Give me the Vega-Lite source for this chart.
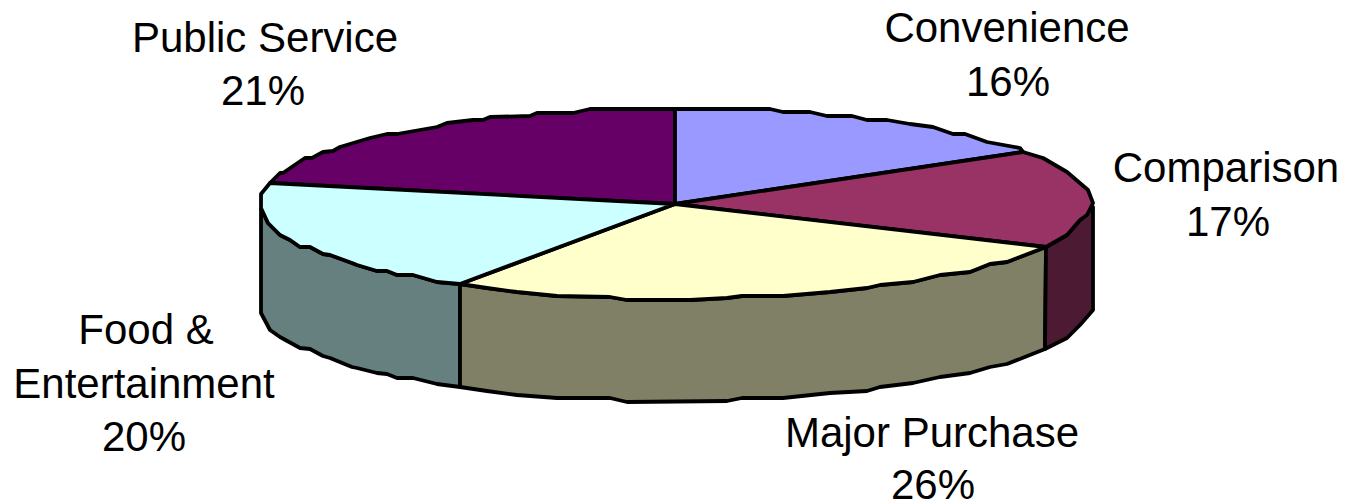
{
"$schema":"https://vega.github.io/schema/vega-lite/v6.json",
"width":1345,"height":502,"padding":0,"autosize":{"type":"none"},
"background":"white",
"config":{"view":{"stroke":null}},
"datasets":{
"shapes":[
{"s":"a","p":[[261,208],[268,223],[280,235],[290,240],[300,247],[310,247],[323,254],[330,255],[352,263],[357,265],[377,271],[387,271],[397,275],[413,275],[437,282],[460,284],[460,387],[437,384],[413,378],[397,378],[387,374],[377,373],[357,368],[352,367],[330,358],[323,356],[310,349],[300,348],[280,337],[270,330],[261,313],[261,208]]},
{"s":"b","p":[[460,284],[487,288],[517,292],[557,296],[610,297],[627,300],[690,300],[727,298],[742,296],[783,296],[830,292],[867,288],[880,285],[913,282],[940,275],[970,272],[990,264],[1007,262],[1046,247],[1045,349],[1007,364],[990,367],[970,373],[940,377],[913,383],[880,387],[867,391],[830,393],[783,398],[742,398],[727,401],[627,402],[610,398],[557,398],[517,395],[487,391],[460,387],[460,284]]},
{"s":"c","p":[[1046,247],[1067,235],[1080,220],[1093,207],[1093,310],[1080,325],[1067,338],[1045,349],[1046,247]]},
{"s":"d","p":[[675,204],[675,109],[590,109],[573,113],[537,113],[530,116],[490,117],[483,120],[473,120],[447,123],[437,127],[397,134],[387,134],[370,138],[340,147],[333,151],[323,152],[312,158],[305,158],[283,173],[280,173],[270,183],[675,204]]},
{"s":"e","p":[[675,204],[675,109],[770,109],[783,112],[810,112],[827,116],[852,116],[867,120],[887,120],[910,124],[933,127],[953,134],[965,134],[987,142],[1020,148],[1023,152],[675,204]]},
{"s":"f","p":[[675,204],[1023,152],[1043,158],[1067,172],[1088,190],[1093,203],[1087,215],[1080,220],[1067,235],[1046,247],[675,204]]},
{"s":"g","p":[[675,204],[1046,247],[1007,262],[990,264],[970,272],[940,275],[913,282],[880,285],[867,288],[830,292],[783,296],[742,296],[727,298],[690,300],[627,300],[610,297],[557,296],[517,292],[487,288],[460,284],[675,204]]},
{"s":"h","p":[[675,204],[460,284],[437,282],[413,275],[397,275],[387,271],[377,271],[357,265],[352,263],[330,255],[323,254],[310,247],[300,247],[290,240],[280,235],[268,223],[261,208],[261,194],[270,183],[675,204]]}
],
"labels":[
{"t":"Public Service","x":265,"y":39},{"t":"21%","x":263,"y":92},
{"t":"Convenience","x":1007,"y":29},{"t":"16%","x":1008,"y":83},
{"t":"Comparison","x":1226,"y":169},{"t":"17%","x":1228,"y":223},
{"t":"Major Purchase","x":932,"y":434},{"t":"26%","x":933,"y":486},
{"t":"Food &","x":146,"y":331},{"t":"Entertainment","x":144,"y":385},{"t":"20%","x":144,"y":438}
]},
"encoding":{
  "x":{"field":"x","type":"quantitative","scale":{"domain":[0,1345],"nice":false,"zero":false},"axis":null},
  "y":{"field":"y","type":"quantitative","scale":{"domain":[502,0],"nice":false,"zero":false},"axis":null}
},
"layer":[
{"data":{"name":"shapes"},
 "transform":[{"flatten":["p"]},{"window":[{"op":"row_number","as":"i"}]},{"calculate":"datum.p[0]","as":"x"},{"calculate":"datum.p[1]","as":"y"}],
 "mark":{"type":"line","filled":true,"stroke":"black","strokeWidth":3.8,"strokeJoin":"round"},
 "encoding":{
  "order":{"field":"i","type":"quantitative"},
  "fill":{"field":"s","type":"nominal","legend":null,"scale":{"domain":["a","b","c","d","e","f","g","h"],"range":["#668080","#808066","#4D1A33","#660066","#9999FF","#993366","#FFFFCC","#CCFFFF"]}}
 }},
{"data":{"name":"labels"},
 "mark":{"type":"text","font":"Liberation Sans","fontSize":42,"align":"center","baseline":"middle","color":"black"},
 "encoding":{"text":{"field":"t"}}}
]
}
